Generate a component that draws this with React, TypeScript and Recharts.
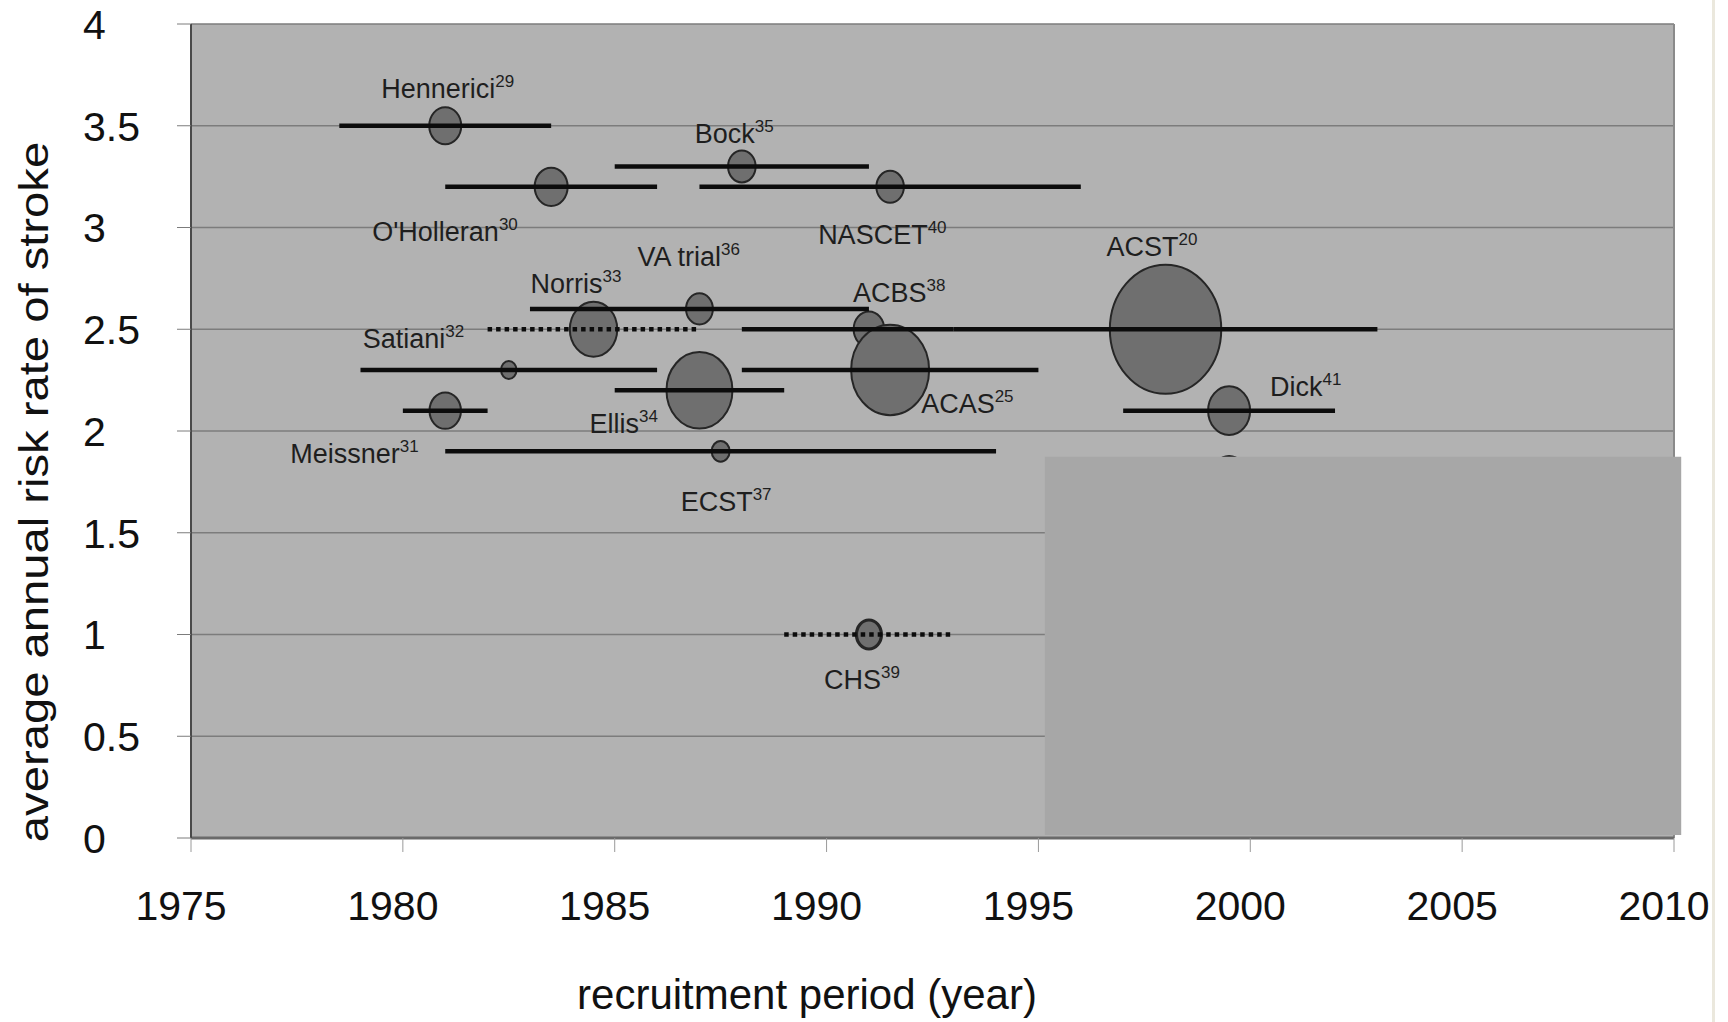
import React from 'react';
import {
  ScatterChart,
  Scatter,
  XAxis,
  YAxis,
  ZAxis,
  CartesianGrid,
  ReferenceArea,
  ReferenceLine,
} from 'recharts';

// ---- data ----
const studyNames = [
  'Hennerici', "O'Holleran", 'Meissner', 'Satiani', 'Norris', 'Ellis', 'Bock', 'VA trial',
  'ECST', 'ACBS', 'CHS', 'NASCET', 'ACAS', 'ACST', 'Dick', '',
];
const refNumbers = ['29', '30', '31', '32', '33', '34', '35', '36', '37', '38', '39', '40', '25', '20', '41', ''];
const annualRisk = [3.5, 3.2, 2.1, 2.3, 2.5, 2.2, 3.3, 2.6, 1.9, 2.5, 1.0, 3.2, 2.3, 2.5, 2.1, 1.78];
const midYear = [1981, 1983.5, 1981, 1982.5, 1984.5, 1987, 1988, 1987, 1987.5, 1991, 1991, 1991.5, 1991.5, 1998, 1999.5, 1999.5];
const startYear: (number | null)[] = [1978.5, 1981, 1980, 1979, 1982, 1985, 1985, 1983, 1981, 1988, 1989, 1987, 1988, 1993, 1997, null];
const endYear: (number | null)[] = [1983.5, 1986, 1982, 1986, 1987, 1989, 1991, 1991, 1994, 1993, 1993, 1996, 1995, 2003, 2002, null];
const patients = [257, 274, 248, 60, 565, 1095, 191, 181, 81, 235, 157, 191, 1530, 3120, 443, 290];
const dottedPeriod = [false, false, false, false, true, false, false, false, false, false, true, false, false, false, false, false];

const xTicks = [1975, 1980, 1985, 1990, 1995, 2000, 2005, 2010];
const yTicks = [0, 0.5, 1, 1.5, 2, 2.5, 3, 3.5, 4];

// label placement (pixel offsets from bubble centre: text start, baseline)
const labelOffset: Record<string, [number, number]> = {
  Hennerici: [-64, -28],
  "O'Holleran": [-179, 54],
  Meissner: [-155, 52],
  Satiani: [-146, -22],
  Norris: [-63, -36],
  Ellis: [-110, 43],
  Bock: [-47, -23],
  'VA trial': [-62, -43],
  ECST: [-40, 60],
  ACBS: [-16, -27],
  CHS: [-45, 54],
  NASCET: [-72, 57],
  ACAS: [31, 43],
  ACST: [-59, -73],
  Dick: [41, -15],
};

const points = studyNames.map((n, i) => ({
  name: n,
  ref: refNumbers[i],
  x: midYear[i],
  y: annualRisk[i],
  z: patients[i],
}));

const segments = studyNames
  .map((n, i) => ({
    key: n || 'hidden' + i,
    dotted: dottedPeriod[i],
    data:
      startYear[i] == null
        ? null
        : [
            { x: startYear[i] as number, y: annualRisk[i] },
            { x: endYear[i] as number, y: annualRisk[i] },
          ],
  }))
  .filter((s) => s.data);

const FONT = '"Liberation Sans", Arial, Helvetica, sans-serif';

const NoShape = () => <g />;

const BubbleShape = (p: any) => {
  const r = p.width != null ? p.width / 2 : Math.sqrt(Math.max(p.size || 0, 0) / Math.PI);
  const thick = p.payload && p.payload.name === 'CHS';
  return (
    <ellipse
      cx={p.cx}
      cy={p.cy}
      rx={r}
      ry={r * 1.16}
      fill="#6f6f6f"
      stroke="#262626"
      strokeWidth={thick ? 3.2 : 2}
    />
  );
};

const LabelShape = (p: any) => {
  const name = p.payload && p.payload.name;
  if (!name || !labelOffset[name]) return <g />;
  const [dx, dy] = labelOffset[name];
  return (
    <text x={p.cx + dx} y={p.cy + dy} fontSize={27} fill="#1e1e1e" fontFamily={FONT}>
      {name}
      <tspan dy={-11} fontSize={17}>
        {p.payload.ref}
      </tspan>
    </text>
  );
};

const XTick = (p: any) => (
  <text x={p.x - 10} y={920} textAnchor="middle" fontSize={41} fill="#111" fontFamily={FONT}>
    {p.payload.value}
  </text>
);

const YTick = (p: any) => (
  <text x={83} y={p.y} dy="0.36em" textAnchor="start" fontSize={41} fill="#111" fontFamily={FONT}>
    {p.payload.value}
  </text>
);

export default function App() {
  return (
    <div style={{ position: 'absolute', left: 0, top: 0, width: 1728, height: 1022, background: '#fff' }}>
      <ScatterChart width={1728} height={1022} margin={{ top: 24, right: 54, bottom: 0, left: 0 }}>
        <CartesianGrid
          horizontal
          vertical={false}
          stroke="#7c7c7c"
          strokeWidth={1.5}
          fill="#b2b2b2"
          fillOpacity={1}
        />
        <XAxis
          dataKey="x"
          type="number"
          domain={[1975, 2010]}
          ticks={xTicks}
          height={184}
          tickSize={14}
          axisLine={{ stroke: '#6a6a6a', strokeWidth: 3 }}
          tickLine={{ stroke: '#9a9a9a' }}
          tick={<XTick />}
          interval={0}
          allowDataOverflow
        />
        <YAxis
          dataKey="y"
          type="number"
          domain={[0, 4]}
          ticks={yTicks}
          width={191}
          tickSize={14}
          axisLine={{ stroke: '#4a4a4a', strokeWidth: 2 }}
          tickLine={{ stroke: '#7c7c7c' }}
          tick={<YTick />}
          interval={0}
          allowDataOverflow
        />
        <ZAxis dataKey="z" type="number" domain={[0, 3120]} range={[0, 9747]} />
        <ReferenceLine x={2010} stroke="#8a8a8a" strokeWidth={2} />

        <Scatter data={points} shape={BubbleShape} isAnimationActive={false} legendType="none" />

        {segments.map((s) => (
          <Scatter
            key={s.key}
            data={s.data as any}
            shape={NoShape}
            line={{
              stroke: '#0c0c0c',
              strokeWidth: 4.5,
              strokeDasharray: s.dotted ? '4.5 4' : undefined,
            }}
            isAnimationActive={false}
            legendType="none"
          />
        ))}

        <Scatter data={points} shape={LabelShape} isAnimationActive={false} legendType="none" />

        <ReferenceArea
          x1={1995.15}
          x2={2010.17}
          y1={0.015}
          y2={1.874}
          ifOverflow="visible"
          fill="#a7a7a7"
          fillOpacity={1}
          stroke="none"
          zIndex={2000}
        />

        <text
          x={807}
          y={1009}
          textAnchor="middle"
          fontSize={42}
          fill="#111"
          fontFamily={FONT}
        >
          recruitment period (year)
        </text>
        <text
          transform="translate(48,492) rotate(-90) scale(1.18,1)"
          x={0}
          y={0}
          textAnchor="middle"
          fontSize={40}
          fill="#111"
          fontFamily={FONT}
        >
          average annual risk rate of stroke
        </text>
      </ScatterChart>
      <div style={{ position: 'absolute', left: 1712, top: 0, width: 3, height: 1022, background: '#ebe8dd' }} />
    </div>
  );
}
